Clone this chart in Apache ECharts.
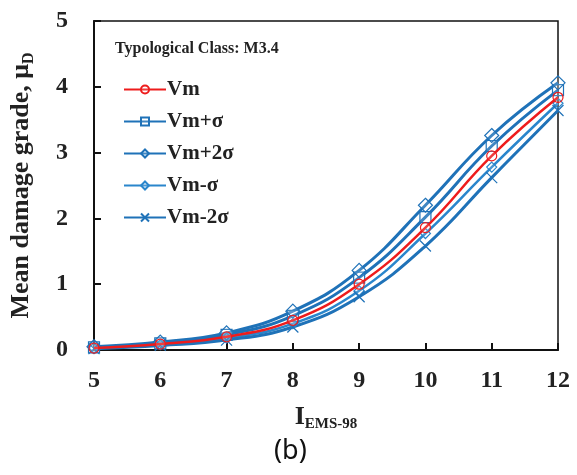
<!DOCTYPE html>
<html>
<head>
<meta charset="utf-8">
<script src="https://cdn.jsdelivr.net/npm/echarts@6/dist/echarts.min.js"></script>
<style>
  html, body { margin: 0; padding: 0; background: #fff; }
  #chart { width: 577px; height: 475px; }
</style>
</head>
<body>
<div id="chart"></div>
<script>
// intensity values (x)
var intensity = [5, 6, 7, 8, 9, 10, 11, 12];

// mean damage grade for each vulnerability case
var vm       = [0.03, 0.09, 0.20, 0.45, 1.00, 1.86, 2.95, 3.84];
var vmPlus1  = [0.04, 0.10, 0.23, 0.52, 1.10, 2.02, 3.10, 3.95];
var vmPlus2  = [0.05, 0.12, 0.26, 0.59, 1.21, 2.20, 3.26, 4.06];
var vmMinus1 = [0.03, 0.08, 0.18, 0.40, 0.90, 1.77, 2.78, 3.75];
var vmMinus2 = [0.02, 0.07, 0.15, 0.35, 0.81, 1.58, 2.62, 3.64];

var names = ['Vm', 'Vm+σ', 'Vm+2σ', 'Vm-σ', 'Vm-2σ'];
var yTicks = [0, 1, 2, 3, 4, 5];

var serif = '"Liberation Serif", "DejaVu Serif", serif';
var blue = '#1f72b8';

function pairs(arr) {
    var out = [];
    for (var i = 0; i < intensity.length; i++) {
        out.push([intensity[i], arr[i]]);
    }
    return out;
}

function makeSeries(name, arr, color, width, symbol, size) {
    return {
        name: name,
        type: 'line',
        smooth: 0.45,
        data: pairs(arr),
        symbol: symbol,
        symbolSize: size,
        showAllSymbol: true,
        lineStyle: { color: color, width: width },
        itemStyle: { color: 'rgba(255,255,255,0.15)', borderColor: color, borderWidth: 1.2 },
        z: name == 'Vm' ? 3 : 2
    };
}

var chart = echarts.init(document.getElementById('chart'));

var option = {
    backgroundColor: '#fff',
    animation: false,
    title: {
        text: 'Typological Class: M3.4',
        left: 110,
        top: 36,
        textStyle: { fontFamily: serif, fontWeight: 'bold', fontSize: 16, color: '#222' }
    },
    legend: {
        orient: 'vertical',
        left: 118,
        top: 74,
        itemWidth: 42,
        itemHeight: 10,
        itemGap: 11,
        data: names,
        textStyle: { fontFamily: serif, fontWeight: 'bold', fontSize: 21, color: '#222', padding: [0, 0, 0, -4] }
    },
    grid: {
        left: 94,
        right: 19,
        top: 21,
        bottom: 125,
        containLabel: false,
        outerBoundsMode: 'none',
        show: true,
        borderColor: '#111',
        borderWidth: 1.5,
        backgroundColor: '#fff'
    },
    xAxis: {
        type: 'value',
        min: 5,
        max: 12,
        interval: 1,
        name: '{a|I}{b|EMS-98}',
        nameLocation: 'middle',
        nameGap: 52,
        nameTextStyle: {
            rich: {
                a: { fontFamily: serif, fontWeight: 'bold', fontSize: 26, color: '#222' },
                b: { fontFamily: serif, fontWeight: 'bold', fontSize: 15, color: '#222', padding: [15, 0, 0, 0] }
            }
        },
        axisLine: { lineStyle: { color: '#111', width: 2 } },
        axisTick: { inside: true, length: 7, lineStyle: { color: '#111', width: 2 } },
        axisLabel: { margin: 19, fontFamily: serif, fontWeight: 'bold', fontSize: 24, color: '#222' },
        splitLine: { show: false }
    },
    yAxis: {
        type: 'value',
        min: yTicks[0],
        max: yTicks[yTicks.length - 1],
        interval: 1,
        name: '{a|Mean damage grade, μ}{b|D}',
        nameLocation: 'middle',
        nameRotate: 90,
        nameGap: 57,
        nameTextStyle: {
            rich: {
                a: { fontFamily: serif, fontWeight: 'bold', fontSize: 26, color: '#222' },
                b: { fontFamily: serif, fontWeight: 'bold', fontSize: 16, color: '#222', padding: [15, 0, 0, 0] }
            }
        },
        axisLine: { lineStyle: { color: '#111', width: 2 } },
        axisTick: { inside: true, length: 7, lineStyle: { color: '#111', width: 2 } },
        axisLabel: { margin: 26, fontFamily: serif, fontWeight: 'bold', fontSize: 24, color: '#222' },
        splitLine: { show: false }
    },
    graphic: [
        {
            type: 'text',
            left: 274,
            top: 438,
            style: { text: '(b)', font: '27px "Noto Sans", "DejaVu Sans", sans-serif', fill: '#111' }
        }
    ],
    series: [
        makeSeries(names[0], vm, '#ee1c1c', 2.5, 'circle', 10),
        makeSeries(names[1], vmPlus1, blue, 3, 'rect', 11),
        makeSeries(names[2], vmPlus2, blue, 3, 'diamond', 14),
        makeSeries(names[3], vmMinus1, '#2a86cc', 2.5, 'diamond', 10),
        makeSeries(names[4], vmMinus2, blue, 3, 'path://M0,0L10,10M10,0L0,10', 11)
    ]
};

chart.setOption(option);
</script>
</body>
</html>
